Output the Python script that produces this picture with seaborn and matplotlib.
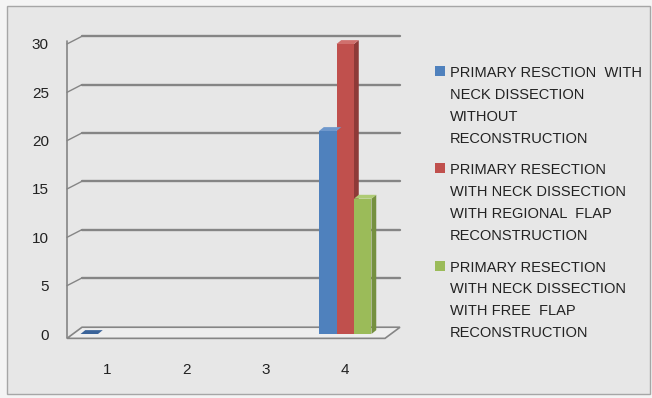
import matplotlib
matplotlib.use("Agg")
import matplotlib.pyplot as plt
from matplotlib.patches import Polygon, Rectangle
import seaborn as sns
import pandas as pd
import numpy as np

categories = ["1", "2", "3", "4"]
series_names = [
    "PRIMARY RESCTION  WITH\nNECK DISSECTION\nWITHOUT\nRECONSTRUCTION",
    "PRIMARY RESECTION\nWITH NECK DISSECTION\nWITH REGIONAL  FLAP\nRECONSTRUCTION",
    "PRIMARY RESECTION\nWITH NECK DISSECTION\nWITH FREE  FLAP\nRECONSTRUCTION",
]
# values per category (None = no bar)
blue_values = [0, None, None, 21]
red_values = [None, None, None, 30]
green_values = [None, None, None, 14]
y_ticks = [0, 5, 10, 15, 20, 25, 30]

colors = ["#4F81BD", "#C0504D", "#9BBB59"]
side_colors = ["#3A6399", "#8E3A38", "#75903F"]
top_colors = ["#6F98CC", "#D0706D", "#AECB74"]

rows = []
for name, vals in zip(series_names, [blue_values, red_values, green_values]):
    for c, v in zip(categories, vals):
        if v is not None:
            rows.append({"cat": c, "series": name, "value": v})
df = pd.DataFrame(rows)

sns.set_theme(style="white")
plt.rcParams["font.family"] = ["Liberation Sans", "DejaVu Sans"]

bg = "#e7e7e7"
fig = plt.figure(figsize=(6.52, 3.98), dpi=100, facecolor="#f4f4f4")
fig.patches.append(Rectangle((7 / 652, 4 / 398), 643 / 652, 388 / 398,
                             transform=fig.transFigure, facecolor=bg,
                             edgecolor="#a6a6a6", linewidth=1.0, zorder=-10))

ax = fig.add_axes([67 / 652, 1 - 334 / 398, 318 / 652, (334 - 44) / 398])
ax.set_facecolor("none")

sns.barplot(data=df, x="cat", y="value", hue="series", order=categories,
            hue_order=series_names, palette=colors, width=0.66,
            saturation=1, edgecolor="none", linewidth=0, ax=ax, zorder=3,
            legend=True)

ax.set_xlim(-0.5, 3.5)
ax.set_ylim(0, 30)

# 3D depth (in data units)
dx_back, dy_back = 15 / 79.5, 0.8
dx_bar, dy_bar = 0.06, 0.4
grid_col = "#858585"

# back wall gridlines with diagonal connectors
for yv in y_ticks:
    if yv == 0:
        continue
    ax.plot([-0.5 + dx_back, 3.5 + dx_back], [yv + dy_back, yv + dy_back],
            color=grid_col, lw=1.7, clip_on=False, zorder=1)
    ax.plot([-0.5, -0.5 + dx_back], [yv, yv + dy_back],
            color=grid_col, lw=1.0, clip_on=False, zorder=1)
# floor
floor = Polygon([(-0.5, -0.45), (3.5, -0.45), (3.5 + dx_back, dy_back - 0.1),
                 (-0.5 + dx_back, dy_back - 0.1)], closed=True,
                facecolor="#eeeeee", edgecolor=grid_col, lw=1.2,
                clip_on=False, zorder=1)
ax.add_patch(floor)
# front vertical axis line
ax.plot([-0.5, -0.5], [-0.45, 30.3], color=grid_col, lw=1.2,
        clip_on=False, zorder=2)

# bar side and top faces derived from seaborn's bar patches
for i, cont in enumerate(ax.containers):
    for p in cont:
        x0, w, h = p.get_x(), p.get_width(), p.get_height()
        if np.isnan(h):
            continue
        x1 = x0 + w
        side = Polygon([(x1, 0), (x1 + dx_bar, dy_bar), (x1 + dx_bar, h + dy_bar), (x1, h)],
                       closed=True, facecolor=side_colors[i], edgecolor="none",
                       zorder=2.5, clip_on=False)
        top = Polygon([(x0, h), (x0 + dx_bar, h + dy_bar), (x1 + dx_bar, h + dy_bar), (x1, h)],
                      closed=True, facecolor=top_colors[i] if h > 0 else side_colors[i],
                      edgecolor="none", zorder=3.5, clip_on=False)
        ax.add_patch(side)
        ax.add_patch(top)

for s in ax.spines.values():
    s.set_visible(False)
ax.set_yticks(y_ticks)
ax.set_yticklabels([str(v) for v in y_ticks])
ax.tick_params(axis="y", length=0, pad=13, labelsize=11, labelcolor="#222222")
ax.tick_params(axis="x", length=0, pad=21, labelsize=11, labelcolor="#222222")
ax.set_xlabel("")
ax.set_ylabel("")
ax.grid(False)

handles, labels = ax.get_legend_handles_labels()
ax.get_legend().remove()
leg = fig.legend(handles, labels, loc="upper left",
                 bbox_to_anchor=(435 / 652, 1 - 66 / 398),
                 frameon=False, fontsize=10.5, handlelength=0.7,
                 handleheight=0.7, handletextpad=0.3, labelspacing=1.2,
                 borderpad=0, borderaxespad=0)
for t in leg.get_texts():
    t.set_linespacing(1.72)
    t.set_color("#222222")
try:
    for col in leg._legend_handle_box.get_children():
        for hp in col.get_children():
            hp.align = "top"
except Exception:
    pass

fig.savefig("out.png", dpi=100, facecolor=fig.get_facecolor())
